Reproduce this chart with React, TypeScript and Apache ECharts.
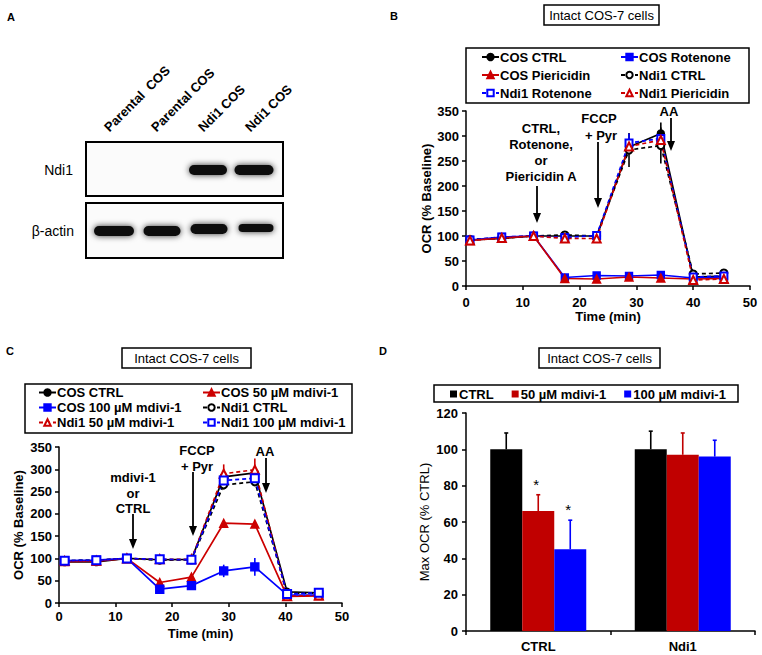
import React, { useEffect, useRef } from "react";
import * as echarts from "echarts";

const FONT = "'Liberation Sans', Arial, Helvetica, sans-serif";
const RED = "#CC0000";
const BLUE = "#0000FF";
const BLACK = "#000000";

// ---------- Panel B data ----------
const timeB = [0.7, 6.3, 11.9, 17.4, 23.0, 28.7, 34.3, 40.0, 45.4];
const bCosCtrl = [92, 95, 100, 100, 100, 278, 305, 18, 20];
const bCosRot = [92, 98, 100, 17, 21, 20, 22, 16, 18];
const bCosPier = [91, 96, 100, 15, 14, 18, 16, 14, 15];
const bNdiCtrl = [93, 96, 100, 102, 100, 272, 281, 24, 26];
const bNdiRot = [92, 98, 100, 97, 101, 286, 295, 18, 20];
const bNdiPier = [91, 96, 100, 95, 95, 279, 292, 12, 14];
const bErrCosCtrl = [3, 3, 0, 3, 3, 10, 22, 3, 3];
const bErrNdiCtrl = [3, 3, 0, 3, 3, 34, 36, 3, 3];
const bErrNdiRot = [0, 0, 0, 0, 0, 19, 8, 0, 0];
const bErrZero = [0, 0, 0, 0, 0, 0, 0, 0, 0];

// ---------- Panel C data ----------
const timeC = [1.0, 6.6, 12.0, 17.8, 23.4, 29.1, 34.6, 40.3, 45.9];
const cCosCtrl = [92, 92, 100, 97, 98, 283, 292, 25, 23];
const cCos50 = [93, 94, 100, 46, 58, 179, 177, 15, 16];
const cCos100 = [95, 96, 100, 31, 39, 72, 81, 18, 18];
const cNdiCtrl = [95, 96, 100, 96, 97, 265, 272, 22, 22];
const cNdi50 = [94, 95, 100, 98, 98, 290, 299, 15, 17];
const cNdi100 = [95, 96, 100, 98, 97, 275, 280, 20, 23];
const cErrCos50 = [0, 0, 0, 5, 3, 0, 0, 0, 0];
const cErrCos100 = [0, 0, 0, 5, 5, 14, 20, 0, 0];
const cErrNdiCtrl = [0, 0, 0, 0, 0, 10, 10, 0, 0];
const cErrNdi50 = [0, 0, 0, 0, 0, 21, 25, 0, 0];
const cErrZero = [0, 0, 0, 0, 0, 0, 0, 0, 0];

// ---------- Panel D data ----------
const dCategories = ["CTRL", "Ndi1"];
const dCtrl = [100, 100];
const d50 = [66, 97];
const d100 = [45, 96];
const dCtrlErrTop = [109, 110];
const d50ErrTop = [75, 109];
const d100ErrTop = [61, 105];
const d50Sig = ["*", ""];
const d100Sig = ["*", ""];

// ---------- helpers ----------
function lineSeries(
  name: string,
  grid: number,
  times: number[],
  vals: number[],
  color: string,
  symbol: string,
  dashed: boolean,
  size: number
) {
  return {
    name,
    type: "line",
    xAxisIndex: grid,
    yAxisIndex: grid,
    data: times.map((t, i) => [t, vals[i]]),
    symbol,
    symbolSize: size,
    showSymbol: true,
    lineStyle: { color, width: 1.7, type: dashed ? [4, 3] : "solid" },
    itemStyle: { color, borderColor: color, borderWidth: 1.4 },
    emphasis: { disabled: true },
  };
}

function errSeries(grid: number, times: number[], vals: number[], err: number[], color: string) {
  const data = times
    .map((t, i) => [t, vals[i] - err[i], vals[i] + err[i], err[i]])
    .filter((d) => d[3] > 0);
  return {
    type: "custom",
    xAxisIndex: grid,
    yAxisIndex: grid,
    silent: true,
    encode: { x: 0, y: [1, 2] },
    data,
    z: 1,
    renderItem: (params: any, api: any) => {
      const p1 = api.coord([api.value(0), api.value(1)]);
      const p2 = api.coord([api.value(0), api.value(2)]);
      return {
        type: "line",
        shape: { x1: p1[0], y1: p1[1], x2: p2[0], y2: p2[1] },
        style: { stroke: color, lineWidth: 1.6 },
      };
    },
  };
}

function barErrSeries(vals: number[], tops: number[], sig: string[], color: string, off: number) {
  return {
    type: "custom",
    xAxisIndex: 2,
    yAxisIndex: 2,
    silent: true,
    encode: { x: 0, y: [1, 2] },
    data: vals.map((v, i) => [i, v, tops[i]]),
    z: 3,
    renderItem: (params: any, api: any) => {
      const p1 = api.coord([api.value(0), api.value(1)]);
      const p2 = api.coord([api.value(0), api.value(2)]);
      const x = p1[0] + off;
      const children: any[] = [
        { type: "line", shape: { x1: x, y1: p1[1], x2: x, y2: p2[1] }, style: { stroke: color, lineWidth: 1.6 } },
        { type: "line", shape: { x1: x - 2, y1: p2[1], x2: x + 2, y2: p2[1] }, style: { stroke: color, lineWidth: 1.6 } },
      ];
      const s = sig[params.dataIndex];
      if (s) {
        children.push({
          type: "text",
          x: x - 2,
          y: p2[1] - 3,
          style: { text: s, fill: "#000", font: `normal 15px ${FONT}`, align: "center", verticalAlign: "bottom" },
        });
      }
      return { type: "group", children };
    },
  };
}

const axisBase = {
  axisLine: { show: true, onZero: false, lineStyle: { color: "#000", width: 1.5 } },
  axisTick: { show: true, inside: false, length: 4, lineStyle: { color: "#000", width: 1.5 } },
  axisLabel: { color: "#000", fontFamily: FONT, fontSize: 13, fontWeight: "bold", margin: 7 },
  splitLine: { show: false },
  nameTextStyle: { color: "#000", fontFamily: FONT, fontSize: 13, fontWeight: "bold" },
};

const txt = (text: string, x: number, y: number, size = 13, weight = "bold", align = "center") => ({
  type: "text",
  x,
  y,
  style: { text, fill: "#000", font: `${weight} ${size}px ${FONT}`, align, verticalAlign: "middle" },
});

const box = (x: number, y: number, w: number, h: number, lw = 1.5) => ({
  type: "rect",
  shape: { x, y, width: w, height: h },
  style: { fill: "transparent", stroke: "#000", lineWidth: lw },
});

const arrow = (x: number, y1: number, y2: number) => [
  { type: "line", shape: { x1: x, y1, x2: x, y2: y2 - 6 }, style: { stroke: "#000", lineWidth: 1.8 } },
  { type: "polygon", shape: { points: [[x - 4, y2 - 10], [x + 4, y2 - 10], [x, y2]] }, style: { fill: "#000" } },
];

const band = (cx: number, cy: number, w: number, h: number) => ({
  type: "rect",
  shape: { x: cx - w / 2, y: cy - h / 2, width: w, height: h, r: h / 2 },
  style: { fill: "#111111", shadowBlur: 6, shadowColor: "rgba(0,0,0,0.8)" },
});

const laneLabel = (text: string, x: number, y: number) => ({
  type: "text",
  x,
  y,
  rotation: Math.PI / 4,
  style: { text, fill: "#000", font: `bold 13px ${FONT}`, align: "left", verticalAlign: "bottom" },
});

function buildOption() {
  const legendText = { color: "#000", fontFamily: FONT, fontSize: 13, fontWeight: "bold" };

  const graphic: any[] = [
    // panel letters
    txt("A", 11, 17, 11),
    txt("B", 394, 16, 11),
    txt("C", 10, 351, 11),
    txt("D", 383, 351, 11),
    // titles
    box(544, 5, 115, 20),
    txt("Intact COS-7 cells", 601.5, 15, 13, "normal"),
    box(122, 348, 129, 20),
    txt("Intact COS-7 cells", 186.5, 358, 13, "normal"),
    box(539, 348, 121, 20),
    txt("Intact COS-7 cells", 599.5, 358, 13, "normal"),
    // legend boxes
    box(466, 48, 283, 55),
    box(25, 384, 327, 49),
    box(434, 385, 304, 17),
    // panel A blot
    { type: "rect", shape: { x: 86, y: 142, width: 197, height: 54 }, style: { fill: "#fbfbfb", stroke: "#000", lineWidth: 2 } },
    { type: "rect", shape: { x: 86, y: 203, width: 197, height: 55 }, style: { fill: "#fbfbfb", stroke: "#000", lineWidth: 2 } },
    band(208, 170, 38, 10),
    band(254, 170, 39, 10),
    band(114, 231, 40, 10),
    band(162, 231, 37, 10),
    band(209, 229, 37, 10),
    band(256, 228, 35, 8),
    laneLabel("Parental  COS", 111, 134),
    laneLabel("Parental COS", 158, 134),
    laneLabel("Ndi1 COS", 205, 134),
    laneLabel("Ndi1 COS", 252, 134),
    txt("Ndi1", 73, 170, 14, "normal", "right"),
    txt("β-actin", 74, 231, 14, "normal", "right"),
    // panel B annotations
    txt("CTRL,", 541, 128),
    txt("Rotenone,", 541, 144),
    txt("or", 541, 160),
    txt("Piericidin A", 541, 176),
    ...arrow(537, 186, 223),
    txt("FCCP", 599, 118),
    txt("+ Pyr", 601, 135),
    ...arrow(598, 142, 208),
    txt("AA", 669, 111),
    ...arrow(671, 118, 151),
    // panel C annotations
    txt("mdivi-1", 133, 477),
    txt("or", 133, 493),
    txt("CTRL", 133, 508),
    ...arrow(133, 514, 549),
    txt("FCCP", 197, 450),
    txt("+ Pyr", 197, 466),
    ...arrow(193, 472, 536),
    txt("AA", 265, 451),
    ...arrow(266, 458, 493),
  ];

  const series: any[] = [
    // B
    lineSeries("COS CTRL", 0, timeB, bCosCtrl, BLACK, "circle", false, 7),
    lineSeries("COS Rotenone", 0, timeB, bCosRot, BLUE, "rect", false, 7),
    lineSeries("COS Piericidin", 0, timeB, bCosPier, RED, "triangle", false, 8),
    lineSeries("Ndi1 CTRL", 0, timeB, bNdiCtrl, BLACK, "emptyCircle", true, 7),
    lineSeries("Ndi1 Rotenone", 0, timeB, bNdiRot, BLUE, "emptyRect", true, 7),
    lineSeries("Ndi1 Piericidin", 0, timeB, bNdiPier, RED, "emptyTriangle", true, 8),
    errSeries(0, timeB, bCosCtrl, bErrCosCtrl, BLACK),
    errSeries(0, timeB, bNdiCtrl, bErrNdiCtrl, BLACK),
    errSeries(0, timeB, bNdiRot, bErrNdiRot, BLUE),
    errSeries(0, timeB, bNdiPier, bErrZero, RED),
    // C
    lineSeries("COS CTRL", 1, timeC, cCosCtrl, BLACK, "circle", false, 7),
    lineSeries("COS 50 µM mdivi-1", 1, timeC, cCos50, RED, "triangle", false, 8),
    lineSeries("COS 100 µM mdivi-1", 1, timeC, cCos100, BLUE, "rect", false, 8),
    lineSeries("Ndi1 CTRL", 1, timeC, cNdiCtrl, BLACK, "emptyCircle", true, 7),
    lineSeries("Ndi1 50 µM mdivi-1", 1, timeC, cNdi50, RED, "emptyTriangle", true, 8),
    lineSeries("Ndi1 100 µM mdivi-1", 1, timeC, cNdi100, BLUE, "emptyRect", true, 8),
    errSeries(1, timeC, cCos50, cErrCos50, RED),
    errSeries(1, timeC, cCos100, cErrCos100, BLUE),
    errSeries(1, timeC, cNdiCtrl, cErrNdiCtrl, BLACK),
    errSeries(1, timeC, cNdi50, cErrNdi50, RED),
    errSeries(1, timeC, cNdi100, cErrZero, BLUE),
    // D
    { name: "CTRL", type: "bar", xAxisIndex: 2, yAxisIndex: 2, data: dCtrl, barWidth: 32, barGap: "0%", itemStyle: { color: BLACK } },
    { name: "50 µM mdivi-1", type: "bar", xAxisIndex: 2, yAxisIndex: 2, data: d50, barWidth: 32, barGap: "0%", itemStyle: { color: "#C00000" } },
    { name: "100 µM mdivi-1", type: "bar", xAxisIndex: 2, yAxisIndex: 2, data: d100, barWidth: 32, barGap: "0%", itemStyle: { color: BLUE } },
    barErrSeries(dCtrl, dCtrlErrTop, ["", ""], BLACK, -32),
    barErrSeries(d50, d50ErrTop, d50Sig, "#C00000", 0),
    barErrSeries(d100, d100ErrTop, d100Sig, BLUE, 32),
  ];

  return {
    animation: false,
    backgroundColor: "#ffffff",
    textStyle: { fontFamily: FONT },
    grid: [
      { left: 466, top: 111, width: 284, height: 175 },
      { left: 59, top: 447, width: 283, height: 156 },
      { left: 466, top: 413, width: 289, height: 218 },
    ],
    xAxis: [
      { ...axisBase, type: "value", gridIndex: 0, min: 0, max: 50, interval: 10, name: "Time (min)", nameLocation: "middle", nameGap: 22, axisLabel: { ...axisBase.axisLabel, margin: 10 } },
      { ...axisBase, type: "value", gridIndex: 1, min: 0, max: 50, interval: 10, name: "Time (min)", nameLocation: "middle", nameGap: 24 },
      {
        ...axisBase,
        type: "category",
        gridIndex: 2,
        data: dCategories,
        axisTick: { ...axisBase.axisTick, alignWithLabel: false },
        axisLabel: { ...axisBase.axisLabel, margin: 9 },
      },
    ],
    yAxis: [
      { ...axisBase, type: "value", gridIndex: 0, min: 0, max: 350, interval: 50, name: "OCR (% Baseline)", nameLocation: "middle", nameGap: 30 },
      { ...axisBase, type: "value", gridIndex: 1, min: 0, max: 350, interval: 50, name: "OCR (% Baseline)", nameLocation: "middle", nameGap: 34 },
      {
        ...axisBase,
        type: "value",
        gridIndex: 2,
        min: 0,
        max: 120,
        interval: 20,
        name: "Max OCR (% CTRL)",
        nameLocation: "middle",
        nameGap: 35,
        axisLabel: { ...axisBase.axisLabel, margin: 8 },
        nameTextStyle: { color: "#000", fontFamily: FONT, fontSize: 13, fontWeight: "normal" },
      },
    ],
    legend: [
      { data: ["COS CTRL", "COS Piericidin", "Ndi1 Rotenone"], orient: "vertical", left: 481, top: 50, padding: 0, itemWidth: 17, itemHeight: 8, itemGap: 4, textStyle: { ...legendText, lineHeight: 14, padding: [0, 0, 0, -4] }, selectedMode: false },
      { data: ["COS Rotenone", "Ndi1 CTRL", "Ndi1 Piericidin"], orient: "vertical", left: 620, top: 50, padding: 0, itemWidth: 17, itemHeight: 8, itemGap: 4, textStyle: { ...legendText, lineHeight: 14, padding: [0, 0, 0, -4] }, selectedMode: false },
      { data: ["COS CTRL", "COS 100 µM mdivi-1", "Ndi1 50 µM mdivi-1"], orient: "vertical", left: 38, top: 386, padding: 0, itemWidth: 17, itemHeight: 8, itemGap: 2, textStyle: { ...legendText, lineHeight: 13, padding: [0, 0, 0, -4] }, selectedMode: false },
      { data: ["COS 50 µM mdivi-1", "Ndi1 CTRL", "Ndi1 100 µM mdivi-1"], orient: "vertical", left: 202, top: 386, padding: 0, itemWidth: 17, itemHeight: 8, itemGap: 2, textStyle: { ...legendText, lineHeight: 13, padding: [0, 0, 0, -4] }, selectedMode: false },
      { data: ["CTRL", "50 µM mdivi-1", "100 µM mdivi-1"], orient: "horizontal", left: 450, top: 387, padding: 0, icon: "rect", itemWidth: 7, itemHeight: 7, itemGap: 18, textStyle: { ...legendText, lineHeight: 14, padding: [0, 0, 0, -3] }, selectedMode: false },
    ],
    graphic,
    series,
  };
}

export default function App() {
  const ref = useRef<HTMLDivElement>(null);
  useEffect(() => {
    if (!ref.current) return;
    const chart = echarts.init(ref.current, undefined, { renderer: "svg" });
    chart.setOption(buildOption() as any);
    return () => chart.dispose();
  }, []);
  return (
    <div
      ref={ref}
      style={{ position: "absolute", left: 0, top: 0, width: 762, height: 655, background: "#fff" }}
    />
  );
}
